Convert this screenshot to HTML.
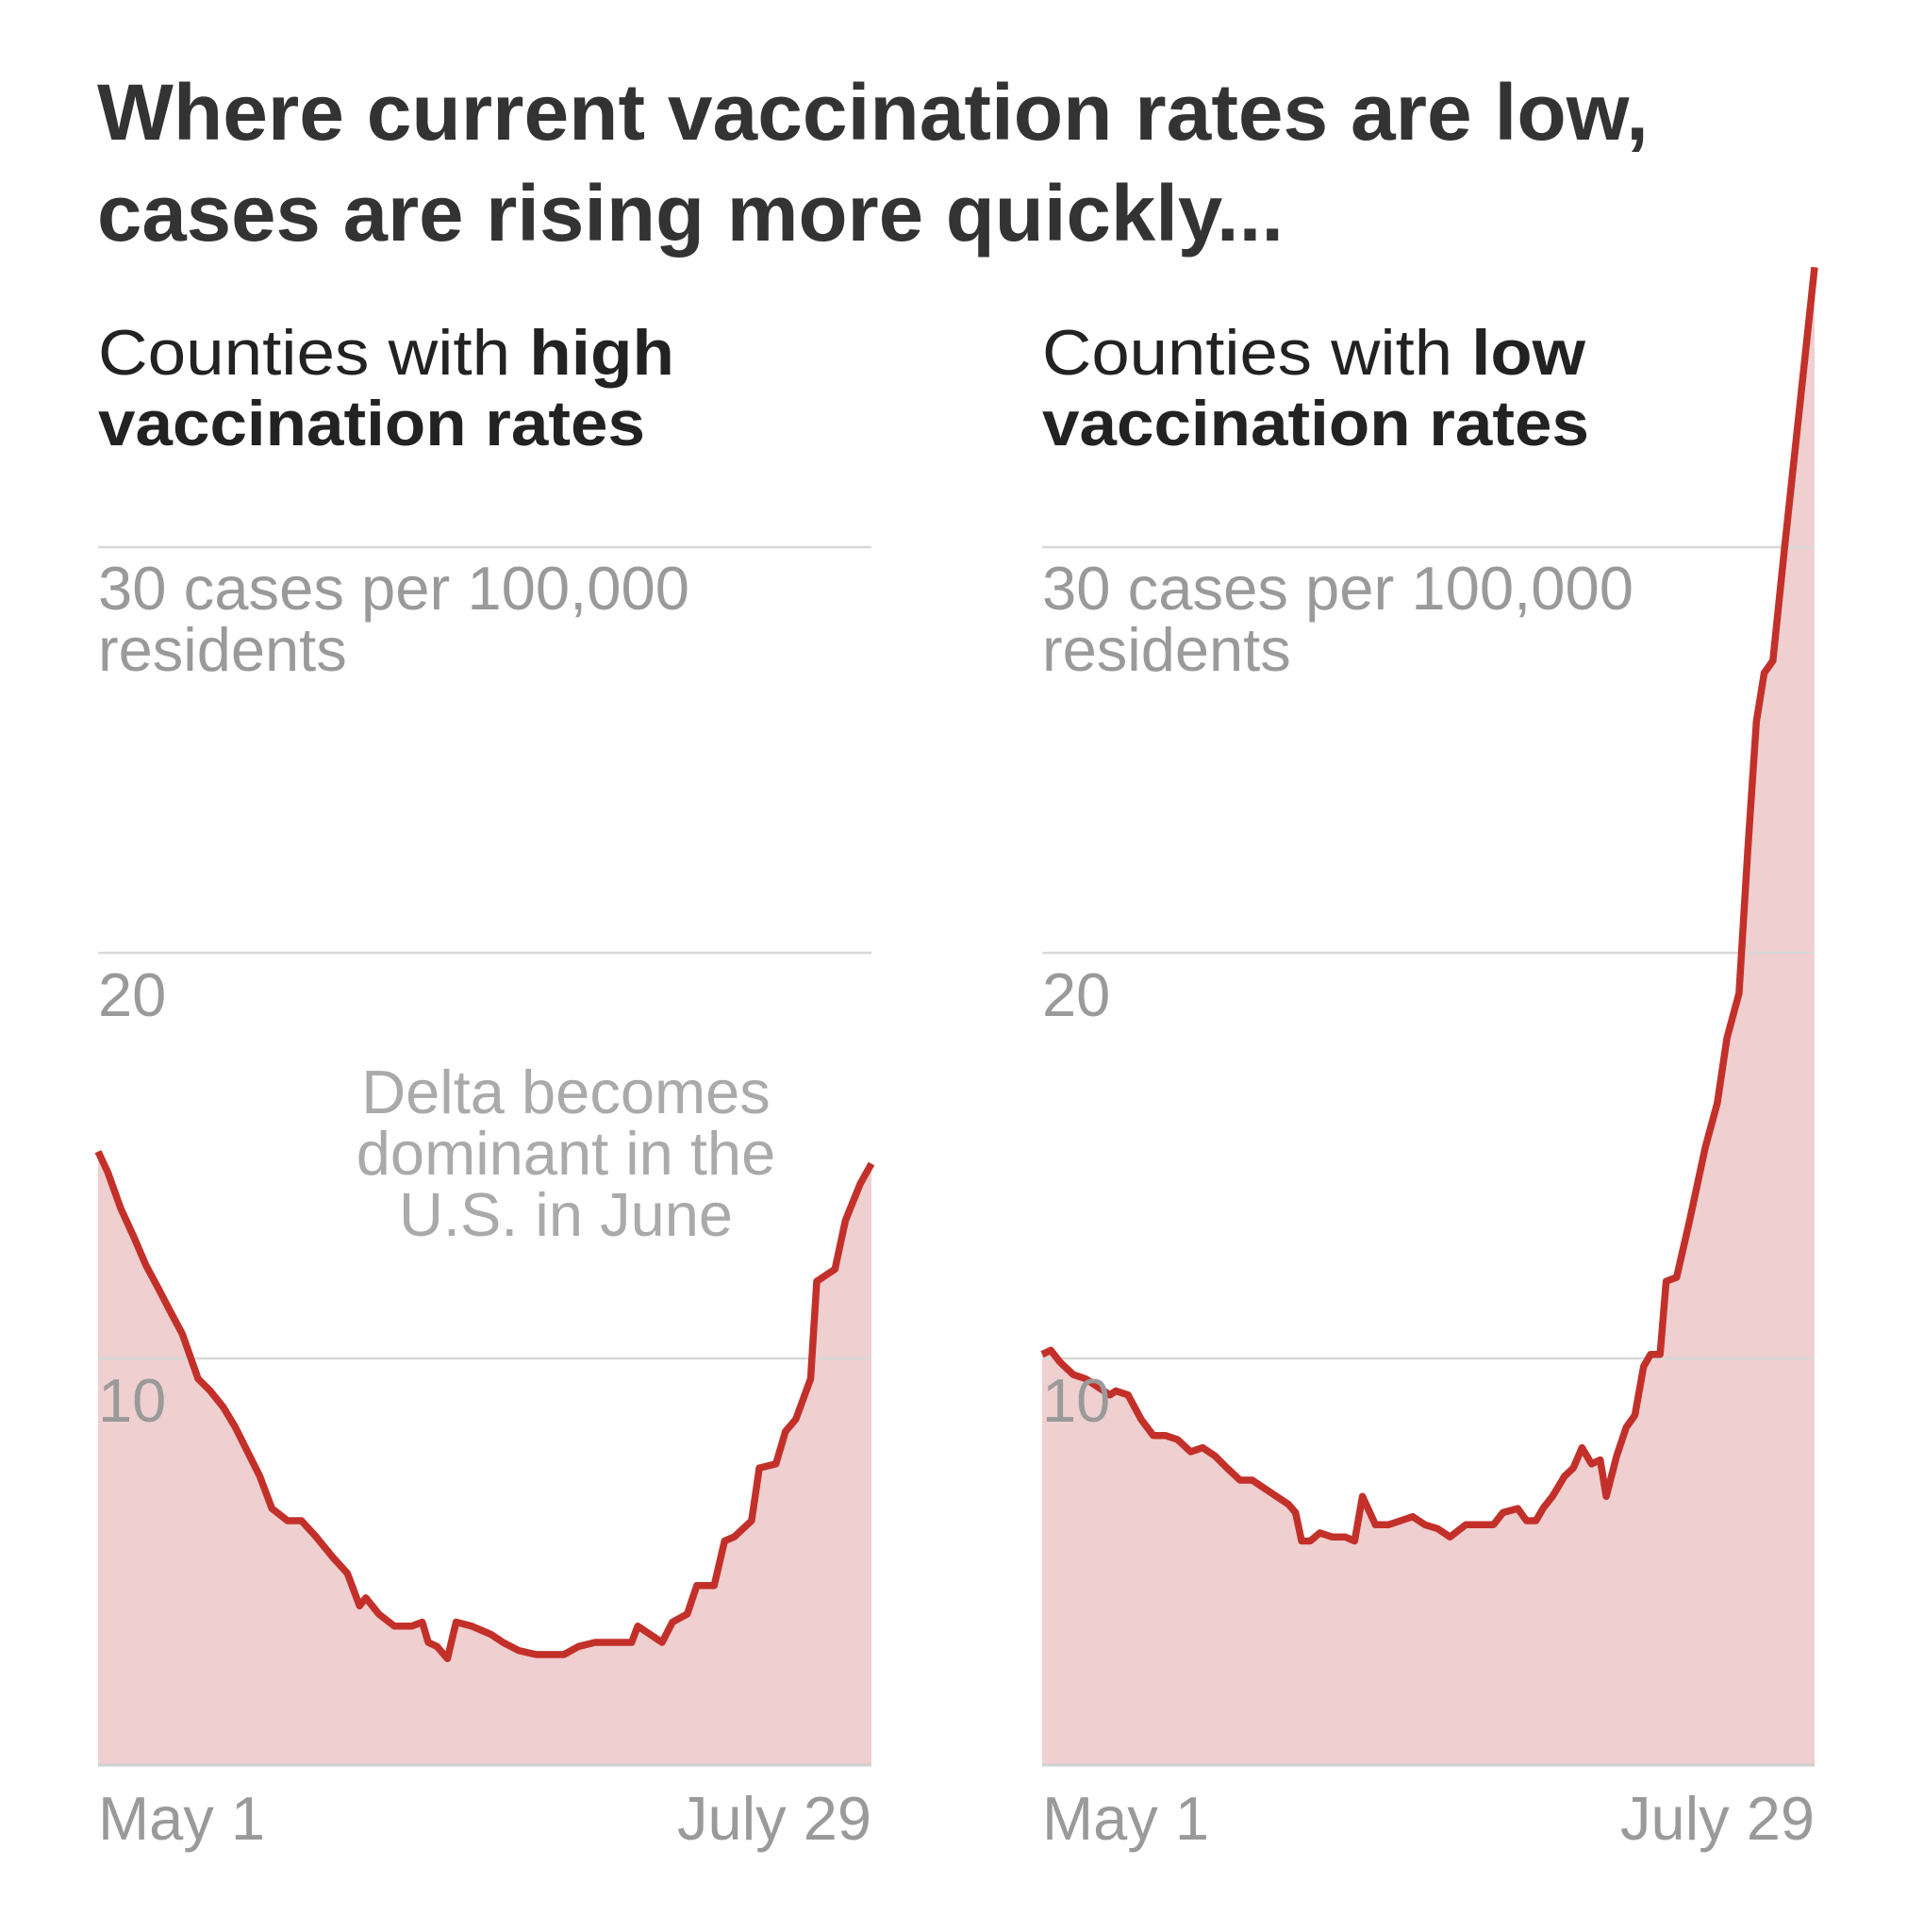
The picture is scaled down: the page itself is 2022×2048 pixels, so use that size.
<!DOCTYPE html>
<html><head><meta charset="utf-8"><style>
html,body{margin:0;padding:0;background:#fff;width:2022px;height:2048px;overflow:hidden}
svg{display:block}
text{font-family:"Liberation Sans",sans-serif}
.t{font-weight:bold;fill:#333;font-size:84px}
.s{fill:#222;font-size:68px}
.b{font-weight:bold}
.g{fill:#9a9a9a;font-size:65px}
.a{fill:#aaa;font-size:65px}
</style></head><body>
<svg id="chart" width="2022" height="2048" viewBox="0 0 2022 2048">
<text class="t" x="103" y="148" textLength="1645" lengthAdjust="spacingAndGlyphs">Where current vaccination rates are low,</text>
<text class="t" x="103" y="255" textLength="1258" lengthAdjust="spacingAndGlyphs">cases are rising more quickly...</text>
<g id="panels"></g>
</svg>
<script>
const highDays=[0,1.1,2.6,4.1,5.5,7,8.2,9.7,11.5,12.9,14.4,15.8,17.2,18.6,20,21.8,23.4,25.1,27,28.7,30.1,30.8,32.3,34.1,36.1,37.3,38,39,40.2,41.2,43,45.2,46.6,48.4,50.4,52.2,53.6,55.3,57.2,59.3,61.4,62.1,63.5,64.9,66.1,67.8,68.9,70.9,72.1,73.2,75.2,76.1,78,79.1,80.3,82,82.7,84.8,86,87.7,89];
const highVals=[15.1,14.6,13.7,13.0,12.3,11.7,11.2,10.6,9.5,9.2,8.8,8.3,7.7,7.1,6.3,6.0,6.0,5.6,5.1,4.7,3.9,4.1,3.7,3.4,3.4,3.5,3.0,2.9,2.6,3.5,3.4,3.2,3.0,2.8,2.7,2.7,2.7,2.9,3.0,3.0,3.0,3.4,3.2,3.0,3.5,3.7,4.4,4.4,5.5,5.6,6.0,7.3,7.4,8.2,8.5,9.5,11.9,12.2,13.4,14.3,14.8];
const lowDays=[0,1,2.1,3.6,5,6.4,7.8,8.5,9.9,11.4,12.8,14.2,15.6,17.1,18.5,19.9,21.3,22.8,24.2,25.6,27,28.4,29.2,29.9,30.9,32,33.4,34.9,36,36.9,38.4,39.9,41.3,42.7,44.1,45.6,47,48.8,50.5,52,53.1,54.8,55.8,56.9,57.7,58.8,60.2,61.2,62.2,63.3,64.3,65,66.2,67.3,68.3,69.3,70.1,71.2,71.9,73.1,74.6,76.4,77.8,78.9,80.3,81.3,82.3,83.2,84.2,85.6,87.3,89];
const lowVals=[10.1,10.2,9.9,9.6,9.5,9.3,9.1,9.2,9.1,8.5,8.1,8.1,8.0,7.7,7.8,7.6,7.3,7.0,7.0,6.8,6.6,6.4,6.2,5.5,5.5,5.7,5.6,5.6,5.5,6.6,5.9,5.9,6.0,6.1,5.9,5.8,5.6,5.9,5.9,5.9,6.2,6.3,6.0,6.0,6.3,6.6,7.1,7.3,7.8,7.4,7.5,6.6,7.6,8.3,8.6,9.8,10.1,10.1,11.9,12.0,13.4,15.2,16.3,17.9,19.0,22.5,25.7,26.9,27.2,30.1,33.5,36.9];
const yTicks=[10,20,30];
const xTickLabels=["May 1","July 29"];
const NS="http://www.w3.org/2000/svg";
const root=document.getElementById('panels');
const Y0=1870, PER10=430;
function yScale(v){return Y0-v*PER10/10;}
function mk(tag,attrs,parent){const e=document.createElementNS(NS,tag);for(const k in attrs)e.setAttribute(k,attrs[k]);parent.appendChild(e);return e;}
function txt(parent,x,y,cls,s,anchor){const t=mk('text',{x:x,y:y,class:cls,'text-anchor':anchor||'start'},parent);t.textContent=s;return t;}
function panel(x0,x1,days,vals,key,sub1,boldWord,w1){
  const g=mk('g',{},root);
  
  
  const xS=d=>x0+d/89*(x1-x0);
  const h=mk('text',{x:x0,y:397,class:'s',textLength:w1,lengthAdjust:'spacingAndGlyphs'},g);
  
  
  h.appendChild(document.createTextNode(sub1));
  const b=mk('tspan',{class:'b'},h);b.textContent=boldWord;
  const h2=txt(g,x0,472,'s b','vaccination rates');
  h2.setAttribute('textLength','580');
  h2.setAttribute('lengthAdjust','spacingAndGlyphs');
  
  
  let d='M'+xS(days[0])+','+Y0;
  days.forEach((dd,i)=>{d+=' L'+xS(dd).toFixed(1)+','+yScale(vals[i]).toFixed(1);});
  d+=' L'+xS(days[days.length-1])+','+Y0+' Z';
  const area=mk('path',{d:d,fill:'#efcfcf'},g);
  
  
  yTicks.forEach(t=>{
    const l=mk('line',{x1:x0,x2:x1,y1:yScale(t),y2:yScale(t),stroke:'#d8d8d8','stroke-width':2.5},g);
    
    
  });
  const base=mk('line',{x1:x0,x2:x1,y1:Y0+1,y2:Y0+1,stroke:'#d0d0d0','stroke-width':3},g);
  
  
  let ld='';
  days.forEach((dd,i)=>{ld+=(i?' L':'M')+xS(dd).toFixed(1)+','+yScale(vals[i]).toFixed(1);});
  const line=mk('path',{d:ld,fill:'none',stroke:'#c3302a','stroke-width':7.5,'stroke-linejoin':'round'},g);
  
  
  yTicks.forEach(t=>{
    if(t===30){
      const a=txt(g,x0,yScale(t)+66,'g','30 cases per 100,000');
      a.setAttribute('textLength','627');
      a.setAttribute('lengthAdjust','spacingAndGlyphs');
      
      
      const r=txt(g,x0,yScale(t)+131,'g','residents');
      
      
    } else {
      const a=txt(g,x0,yScale(t)+67,'g',String(t));
      
      
    }
  });
  const xl=txt(g,x0,1950,'g',xTickLabels[0]);
  
  
  const xr=txt(g,x1,1950,'g',xTickLabels[1],'end');
  
  
  return g;
}
const gl=panel(104,924,highDays,highVals,'high','Counties with ','high',611);
panel(1105,1924,lowDays,lowVals,'low','Counties with ','low',576);
['Delta becomes','dominant in the','U.S. in June'].forEach((s,i)=>{
  const t=txt(gl,600,1180+i*65,'a',s,'middle');
  
  
});
</script>
</body></html>
